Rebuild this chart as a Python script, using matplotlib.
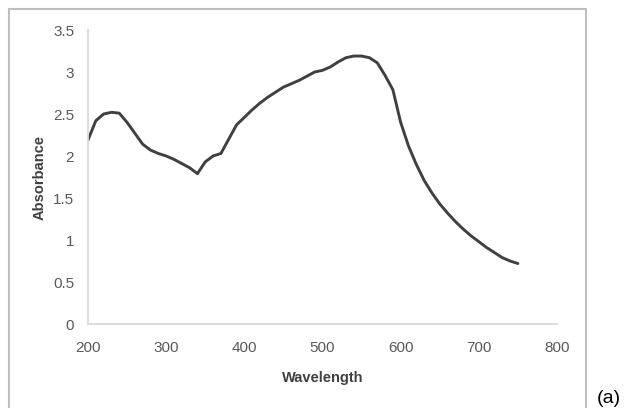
import matplotlib
matplotlib.use('Agg')
import matplotlib.pyplot as plt
from matplotlib.patches import Rectangle

# absorbance spectrum
wavelength = [200, 210, 220, 230, 240, 250, 260, 270, 280, 290,
              300, 310, 320, 330, 340, 350, 360, 370, 380, 390,
              400, 410, 420, 430, 440, 450, 460, 470, 480, 490,
              500, 510, 520, 530, 540, 550, 560, 570, 580, 590,
              600, 610, 620, 630, 640, 650, 660, 670, 680, 690,
              700, 710, 720, 730, 740, 750]
absorbance = [2.19, 2.42, 2.50, 2.52, 2.51, 2.40, 2.27, 2.14, 2.07, 2.03,
              2.00, 1.96, 1.91, 1.86, 1.79, 1.93, 2.00, 2.03, 2.20, 2.37,
              2.46, 2.55, 2.63, 2.70, 2.76, 2.82, 2.86, 2.90, 2.95, 3.00,
              3.02, 3.06, 3.12, 3.17, 3.19, 3.19, 3.17, 3.11, 2.96, 2.79,
              2.40, 2.12, 1.90, 1.71, 1.56, 1.43, 1.32, 1.22, 1.13, 1.05,
              0.98, 0.91, 0.85, 0.79, 0.75, 0.72]

xticks = [200, 300, 400, 500, 600, 700, 800]
yticks = [0, 0.5, 1, 1.5, 2, 2.5, 3, 3.5]
ytick_labels = ['0', '0.5', '1', '1.5', '2', '2.5', '3', '3.5']

plt.rcParams['font.family'] = ['Liberation Sans', 'DejaVu Sans']

W, H = 624, 408
fig = plt.figure(figsize=(W / 100, H / 100), dpi=100)

# chart frame (Excel style border)
fig.patches.append(Rectangle((9 / W, -0.05), (586 - 9) / W, 1 - 9 / H + 0.05,
                             transform=fig.transFigure, fill=False,
                             edgecolor='#bfbfbf', linewidth=1.5))

ax = fig.add_axes([88 / W, 1 - 324 / H, (557 - 88) / W, (324 - 30) / H])
ax.plot(wavelength, absorbance, color='#404040', linewidth=2.1,
        solid_capstyle='round', solid_joinstyle='round')

ax.set_xlim(200, 800)
ax.set_ylim(0, 3.5)
ax.set_xticks(xticks)
ax.set_yticks(yticks)
ax.set_yticklabels(ytick_labels)
for s in ['top', 'right']:
    ax.spines[s].set_visible(False)
for s in ['left', 'bottom']:
    ax.spines[s].set_color('#d9d9d9')
    ax.spines[s].set_linewidth(1.3)
ax.tick_params(axis='both', length=0, labelcolor='#595959', labelsize=11)
ax.tick_params(axis='x', pad=12)
ax.tick_params(axis='y', pad=10)

fig.text(323 / W, 1 - 378 / H, 'Wavelength', ha='center', va='center',
         fontsize=10.5, fontweight='bold', color='#404040')
fig.text(40 / W, 1 - 178 / H, 'Absorbance', ha='center', va='center',
         rotation=90, fontsize=10.5, fontweight='bold', color='#404040')

fig.text(597 / W, 0.002, '(a)', ha='left', va='bottom',
         fontsize=14, color='black')

fig.savefig('out.png', dpi=100)
